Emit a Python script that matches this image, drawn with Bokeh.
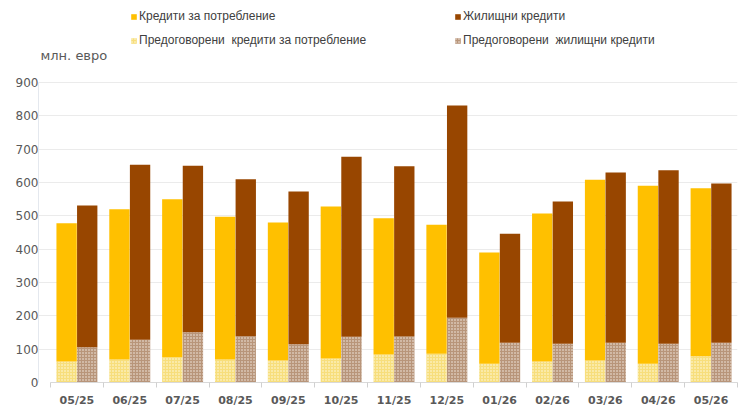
from bokeh.plotting import figure
from bokeh.models import ColumnDataSource, Range1d, FixedTicker, Legend, LegendItem, Label
from bokeh.embed import file_html
from bokeh.resources import INLINE

months = ["05/25", "06/25", "07/25", "08/25", "09/25", "10/25", "11/25",
          "12/25", "01/26", "02/26", "03/26", "04/26", "05/26"]
consumer_total = [478, 520, 550, 497, 480, 528, 493, 473, 390, 507, 608, 590, 583]
consumer_refin = [63, 69, 76, 69, 66, 72, 84, 86, 56, 63, 66, 56, 79]
housing_total = [531, 653, 650, 610, 573, 677, 649, 831, 446, 543, 630, 637, 597]
housing_refin = [106, 128, 151, 139, 115, 137, 138, 194, 119, 116, 119, 116, 119]
y_ticks = [0, 100, 200, 300, 400, 500, 600, 700, 800, 900]

labels = {
    "cons": "Кредити за потребление",
    "hous": "Жилищни кредити",
    "cons_ref": "Предоговорени  кредити за потребление",
    "hous_ref": "Предоговорени  жилищни кредити",
}

idx = list(range(len(months)))
off = 0.195
bw = 0.385
src = ColumnDataSource(dict(
    xc=[i - off for i in idx],
    xh=[i + off for i in idx],
    ct=consumer_total, cr=consumer_refin,
    ht=housing_total, hr=housing_refin,
    zero=[0] * len(idx),
))

n = len(months)
# frame spans the whole height above the x axis; the value axis runs 0..900
p = figure(width=740, height=416, output_backend="svg", toolbar_location=None,
           x_range=Range1d(-0.727, n - 0.5), y_range=Range1d(0, 1146),
           min_border_left=38, min_border_right=3, min_border_top=0, min_border_bottom=34)
p.outline_line_color = None
p.background_fill_color = "white"

r_cr = p.vbar(x="xc", bottom="zero", top="cr", width=bw, source=src,
              fill_color="#f7de7c", line_color=None,
              hatch_pattern="dot", hatch_color="#fffbe8", hatch_scale=3, hatch_weight=1.5)
r_c = p.vbar(x="xc", bottom="cr", top="ct", width=bw, source=src,
             fill_color="#ffc000", line_color=None)
r_hr = p.vbar(x="xh", bottom="zero", top="hr", width=bw, source=src,
              fill_color="#b8957a", line_color=None,
              hatch_pattern="dot", hatch_color="#f6efe8", hatch_scale=3, hatch_weight=1.5)
r_h = p.vbar(x="xh", bottom="hr", top="ht", width=bw, source=src,
             fill_color="#984600", line_color=None)

# axes
p.xaxis.ticker = FixedTicker(ticks=idx, minor_ticks=[i - 0.5 for i in idx] + [n - 0.5])
p.xaxis.bounds = (-0.5, n - 0.5)
p.xaxis.major_label_overrides = {i: m for i, m in enumerate(months)}
p.xaxis.major_tick_line_color = None
p.xaxis.major_tick_out = 0
p.xaxis.minor_tick_line_color = "#d0d0d0"
p.xaxis.minor_tick_out = 5
p.xaxis.minor_tick_in = 0
p.xaxis.axis_line_color = "#d9d9d9"
p.xaxis.major_label_text_font = "DejaVu Sans"
p.xaxis.major_label_text_font_style = "bold"
p.xaxis.major_label_text_font_size = "11px"
p.xaxis.major_label_text_color = "#595959"
p.xaxis.major_label_standoff = 6

p.yaxis.ticker = FixedTicker(ticks=y_ticks)
p.yaxis.bounds = (0, 900)
p.yaxis.major_tick_line_color = None
p.yaxis.major_tick_out = 0
p.yaxis.minor_tick_line_color = None
p.yaxis.axis_line_color = "#e4e8ee"
p.yaxis.major_label_text_font = "DejaVu Sans"
p.yaxis.major_label_text_font_size = "12px"
p.yaxis.major_label_text_color = "#595959"
p.yaxis.major_label_standoff = 0

p.xgrid.grid_line_color = None
p.ygrid.grid_line_color = "#ebebeb"
p.ygrid.ticker = FixedTicker(ticks=y_ticks)

p.add_layout(Label(x=-0.5, y=900, x_offset=-10, y_offset=27, text="млн. евро",
                   text_font="DejaVu Sans", text_font_size="13px", text_color="#595959",
                   text_baseline="middle", text_align="left"))

legend = Legend(items=[
    LegendItem(label=labels["cons"], renderers=[r_c]),
    LegendItem(label=labels["cons_ref"], renderers=[r_cr]),
    LegendItem(label=labels["hous"], renderers=[r_h]),
    LegendItem(label=labels["hous_ref"], renderers=[r_hr]),
], ncols=2, location=(92, 332), glyph_width=7, glyph_height=7, label_standoff=2,
   label_width=311, label_height=20, spacing=4, padding=0, margin=0,
   border_line_color=None, background_fill_alpha=0,
   label_text_font="Liberation Sans", label_text_font_size="12px", label_text_color="#404040")
p.add_layout(legend, "center")

open("out.html", "w").write(file_html(p, INLINE))
